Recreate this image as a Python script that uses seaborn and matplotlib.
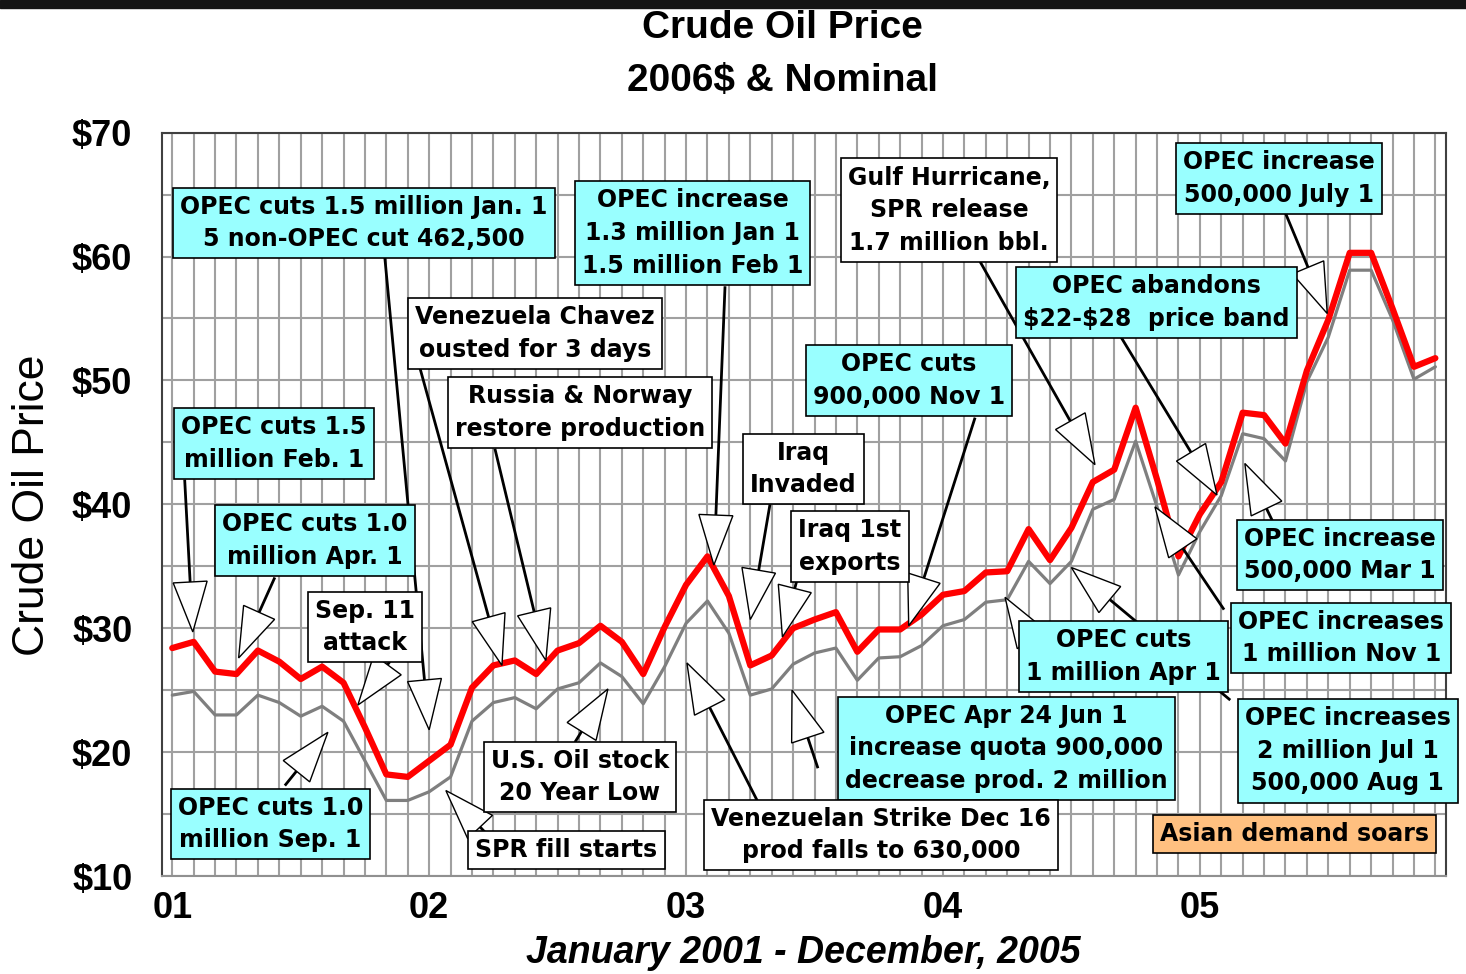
import numpy as np
import pandas as pd
import seaborn as sns
import matplotlib.pyplot as plt
from matplotlib.patches import Polygon, Rectangle

# monthly prices, Jan 2001 - Dec 2005
months = pd.date_range("2001-01-01", "2005-12-01", freq="MS")
year_labels = ["01", "02", "03", "04", "05"]

real_2006 = [28.4, 28.9, 26.5, 26.3, 28.2, 27.3, 25.9, 26.9, 25.6, 22.0, 18.2, 18.0,
             19.3, 20.6, 25.2, 27.0, 27.4, 26.3, 28.2, 28.8, 30.2, 28.9, 26.3, 30.1,
             33.5, 35.8, 32.6, 27.0, 27.8, 30.0, 30.7, 31.3, 28.1, 29.9, 29.9, 31.1,
             32.7, 33.0, 34.5, 34.6, 38.0, 35.5, 38.1, 41.8, 42.8, 47.8, 42.0, 35.8,
             39.2, 41.8, 47.4, 47.2, 44.9, 50.8, 54.9, 60.3, 60.3, 55.8, 51.1, 51.8]
nominal = [24.6, 24.9, 23.0, 23.0, 24.6, 24.0, 22.9, 23.7, 22.5, 19.3, 16.1, 16.1,
           16.8, 18.0, 22.5, 24.0, 24.4, 23.5, 25.1, 25.6, 27.2, 26.1, 23.9, 26.9,
           30.4, 32.2, 29.6, 24.6, 25.1, 27.1, 28.0, 28.4, 25.8, 27.6, 27.7, 28.6,
           30.2, 30.7, 32.1, 32.3, 35.4, 33.6, 35.4, 39.6, 40.4, 45.1, 39.8, 34.3,
           37.8, 40.7, 45.7, 45.3, 43.5, 49.9, 53.5, 58.9, 58.9, 54.9, 50.1, 51.1]
y_labels = [10, 20, 30, 40, 50, 60, 70]

CYAN = "#99FFFF"
WHITE = "white"
ORANGE = "#FFC080"

# text, box colour, box centre, arrow tail, arrow tip (month index, $)
notes = [
    ("OPEC cuts 1.5 million Jan. 1\n5 non-OPEC cut 462,500", CYAN, (8.95, 62.7), (9.93, 59.9), (12.0, 21.8)),
    ("OPEC increase\n1.3 million Jan 1\n1.5 million Feb 1", CYAN, (24.3, 61.9), (25.82, 57.6), (25.3, 35.1)),
    ("Venezuela Chavez\nousted for 3 days", WHITE, (16.94, 53.8), (11.57, 51.0), (15.4, 27.0)),
    ("Russia & Norway\nrestore production", WHITE, (19.04, 47.4), (15.07, 44.5), (17.45, 27.4)),
    ("OPEC cuts 1.5\nmillion Feb. 1", CYAN, (4.74, 44.9), (0.58, 42.0), (0.96, 29.7)),
    ("OPEC cuts 1.0\nmillion Apr. 1", CYAN, (6.66, 37.1), (4.79, 34.1), (3.1, 27.6)),
    ("Sep. 11\nattack", WHITE, (9.02, 30.1), (10.16, 27.3), (8.67, 23.8)),
    ("OPEC cuts 1.0\nmillion Sep. 1", CYAN, (4.58, 14.2), (5.26, 17.3), (7.27, 21.6)),
    ("U.S. Oil stock\n20 Year Low", WHITE, (19.04, 18.0), (18.81, 20.8), (20.35, 25.1)),
    ("SPR fill starts", WHITE, (18.41, 12.1), (14.6, 13.55), (12.78, 16.9)),
    ("Iraq\nInvaded", WHITE, (29.49, 42.85), (27.92, 40.0), (27.0, 30.7)),
    ("Iraq 1st\nexports", WHITE, (31.66, 36.6), (29.18, 33.9), (28.5, 29.3)),
    ("OPEC cuts\n900,000 Nov 1", CYAN, (34.41, 50.0), (37.5, 47.0), (34.4, 30.2)),
    ("Gulf Hurricane,\nSPR release\n1.7 million bbl.", WHITE, (36.28, 63.75), (37.73, 59.6), (43.1, 43.2)),
    ("OPEC abandons\n$22-$28  price band", CYAN, (45.96, 56.3), (44.28, 53.6), (48.8, 40.75)),
    ("OPEC increase\n500,000 July 1", CYAN, (51.71, 66.3), (52.0, 63.5), (53.95, 55.4)),
    ("OPEC increase\n500,000 Mar 1", CYAN, (54.56, 35.9), (51.38, 38.7), (50.1, 43.3)),
    ("OPEC increases\n1 million Nov 1", CYAN, (54.6, 29.2), (49.13, 31.5), (45.9, 39.8)),
    ("OPEC increases\n2 million Jul 1\n500,000 Aug 1", CYAN, (54.9, 20.1), (49.42, 24.2), (42.0, 34.9)),
    ("OPEC cuts\n1 million Apr 1", CYAN, (44.44, 27.7), (39.7, 30.3), (38.9, 32.5)),
    ("OPEC Apr 24 Jun 1\nincrease quota 900,000\ndecrease prod. 2 million", CYAN, (38.95, 20.3), (30.16, 18.7), (28.95, 25.0)),
    ("Venezuelan Strike Dec 16\nprod falls to 630,000", WHITE, (33.1, 13.3), (27.32, 16.1), (24.04, 27.2)),
    ("Asian demand soars", ORANGE, (52.43, 13.4), None, None),
]


def draw_arrow(ax, tail, tip, head_len=50, half_w=17):
    t = ax.transData
    p0 = t.transform(tail)
    p1 = t.transform(tip)
    u = (p1 - p0) / np.hypot(*(p1 - p0))
    n = np.array([-u[1], u[0]])
    base = p1 - head_len * u
    tri = t.inverted().transform(np.array([p1, base + half_w * n, base - half_w * n]))
    b = t.inverted().transform(base)
    ax.plot([tail[0], b[0]], [tail[1], b[1]], color="black", lw=2, zorder=4, clip_on=False,
            solid_capstyle="butt")
    ax.add_patch(Polygon(tri, closed=True, fc="white", ec="black", lw=1, zorder=4, clip_on=False))


def main():
    sns.set_style("white")
    plt.rcParams["text.color"] = "black"
    plt.rcParams["xtick.labelcolor"] = "black"
    plt.rcParams["ytick.labelcolor"] = "black"
    fig = plt.figure(figsize=(14.66, 9.74), dpi=100)
    ax = fig.add_axes([0.1102, 0.1006, 0.8762, 0.7632])

    df = pd.DataFrame({
        "month": np.arange(len(months)),
        "2006$": real_2006,
        "Nominal": nominal,
    }).melt(id_vars="month", var_name="series", value_name="price")

    sns.lineplot(data=df[df.series == "Nominal"], x="month", y="price", color="#7f7f7f",
                 lw=2.3, ax=ax, zorder=2)
    sns.lineplot(data=df[df.series == "2006$"], x="month", y="price", color="#ff0000",
                 lw=4.5, ax=ax, zorder=3)

    ax.set_xlim(-0.5, len(months) - 0.5)
    ax.set_ylim(10, 70)
    ax.set_xlabel("")
    ax.set_ylabel("")

    ax.set_xticks(np.arange(0, len(months), 12))
    ax.set_xticklabels(year_labels)
    ax.set_xticks(np.arange(len(months)), minor=True)
    ax.set_yticks(y_labels)
    ax.set_yticklabels([f"${v}" for v in y_labels])
    ax.set_yticks(np.arange(15, 70, 10), minor=True)

    ax.grid(True, which="both", color="#a0a0a0", lw=1.5, zorder=0)
    ax.set_axisbelow(True)
    ax.tick_params(which="both", direction="out", length=7, width=1.3, color="#808080")
    ax.tick_params(axis="x", which="major", pad=4)
    ax.tick_params(axis="y", which="major", pad=14)
    for lab in ax.get_xticklabels() + ax.get_yticklabels():
        lab.set_fontfamily("Liberation Sans")
        lab.set_fontweight("bold")
        lab.set_fontsize(26)
        lab.set_color("black")
    for side, sp in ax.spines.items():
        sp.set_visible(True)
        sp.set_color("#404040" if side != "bottom" else "#909090")
        sp.set_linewidth(1.5)

    for text, color, center, tail, tip in notes:
        if tail is not None:
            draw_arrow(ax, tail, tip)
        ax.text(center[0], center[1], text, ha="center", va="center", fontsize=17,
                fontweight="bold", family="DejaVu Sans", linespacing=1.45, zorder=5,
                color="black", parse_math=False, clip_on=False,
                bbox=dict(boxstyle="square,pad=0.3", fc=color, ec="black", lw=1.2))

    fig.text(0.534, 1 - 28 / 974, "Crude Oil Price", ha="center", va="center",
             fontsize=28, fontweight="bold", family="Liberation Sans")
    fig.text(0.534, 1 - 81 / 974, "2006$ & Nominal", ha="center", va="center",
             fontsize=28, fontweight="bold", family="Liberation Sans", parse_math=False)
    fig.text(0.0225, 0.4815, "Crude Oil Price", rotation=90, ha="center", va="center",
             fontsize=32, family="Liberation Sans")
    fig.text(0.5483, 1 - 953 / 974, "January 2001 - December, 2005", ha="center",
             va="center", fontsize=27, fontweight="bold", fontstyle="italic",
             family="Liberation Sans")

    fig.patches.append(Rectangle((0, 1 - 8 / 974), 1, 8 / 974, transform=fig.transFigure,
                                 color="#141414", zorder=10))

    fig.savefig("out.png", dpi=100)
    plt.close(fig)


if __name__ == "__main__":
    main()
